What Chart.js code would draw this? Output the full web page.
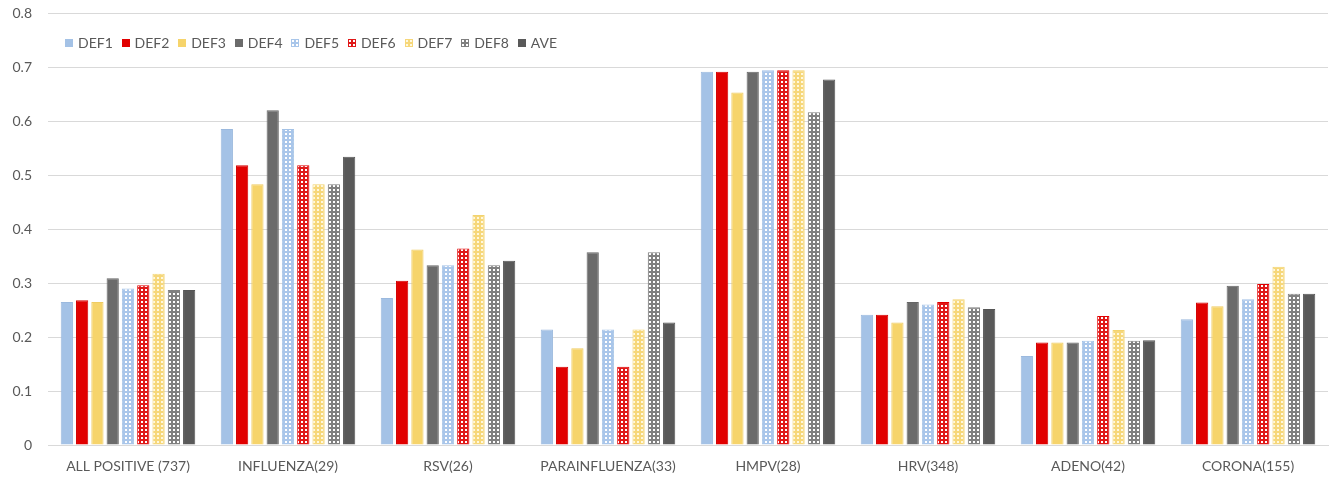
<!DOCTYPE html>
<html>
<head>
<meta charset="utf-8">
<script src="https://cdn.jsdelivr.net/npm/chart.js@4/dist/chart.umd.min.js"></script>
<style>
html,body{margin:0;padding:0;background:#fff;}
#wrap{width:1334px;height:481px;position:relative;}
#legend{position:absolute;left:65px;top:35px;height:16px;font-family:Lato,"Open Sans",sans-serif;font-size:14px;color:#595959;white-space:nowrap;}
#legend .item{display:inline-block;width:56.6px;height:16px;line-height:16px;vertical-align:top;}
#legend canvas{display:inline-block;vertical-align:middle;margin-right:5px;margin-top:-3px;}
</style>
</head>
<body>
<div id="wrap"><canvas id="c" width="1334" height="481"></canvas><div id="legend"></div></div>
<script>
const categories = ['ALL POSITIVE (737)','INFLUENZA(29)','RSV(26)','PARAINFLUENZA(33)','HMPV(28)','HRV(348)','ADENO(42)','CORONA(155)'];
const seriesNames = ['DEF1','DEF2','DEF3','DEF4','DEF5','DEF6','DEF7','DEF8','AVE'];
const DEF1 = [0.265,0.585,0.272,0.214,0.691,0.241,0.165,0.233];
const DEF2 = [0.268,0.518,0.304,0.145,0.691,0.241,0.190,0.264];
const DEF3 = [0.265,0.483,0.362,0.179,0.653,0.227,0.190,0.257];
const DEF4 = [0.309,0.620,0.333,0.357,0.691,0.265,0.190,0.295];
const DEF5 = [0.290,0.585,0.333,0.214,0.694,0.260,0.193,0.270];
const DEF6 = [0.296,0.518,0.364,0.145,0.694,0.265,0.239,0.298];
const DEF7 = [0.317,0.483,0.426,0.214,0.694,0.270,0.213,0.330];
const DEF8 = [0.287,0.483,0.333,0.357,0.616,0.255,0.193,0.280];
const AVE  = [0.287,0.534,0.341,0.227,0.677,0.252,0.194,0.280];
const yTicks = [0,0.1,0.2,0.3,0.4,0.5,0.6,0.7,0.8];

function dotTile(bg, dot, size, d){
  const c = document.createElement('canvas');
  c.width = size; c.height = size;
  const x = c.getContext('2d');
  x.fillStyle = bg; x.fillRect(0,0,size,size);
  x.fillStyle = dot;
  x.fillRect(1,1,d,d);
  return c;
}
const ctx = document.getElementById('c').getContext('2d');
const tiles = [
  null,null,null,null,
  dotTile('#A9C6EA','#ffffff',4,2),
  dotTile('#E01818','#ffffff',4,2),
  dotTile('#F6D77A','#FFF8DD',4,2),
  dotTile('#808080','#ffffff',4,2),
  null
];
const solids = ['#A4C2E6','#E10000','#F6D46B','#6B6B6B',null,null,null,null,'#595959'];
const fills = solids.map((s,i)=> s ? s : ctx.createPattern(tiles[i],'repeat'));
const borders = ['#9BB9DE','#D40000','#EFCC62','#666666','#A4C2E6','#E10000','#F2D36E','#808080','#555555'];
const seriesData = [DEF1,DEF2,DEF3,DEF4,DEF5,DEF6,DEF7,DEF8,AVE];

const datasets = seriesNames.map((n,i)=>({
  label:n,
  data:seriesData[i],
  backgroundColor:fills[i],
  borderColor:borders[i],
  borderWidth:1,
  categoryPercentage:0.86,
  barPercentage:0.8
}));

// HTML legend
const lg = document.getElementById('legend');
seriesNames.forEach((n,i)=>{
  const it = document.createElement('span'); it.className='item';
  const sw = document.createElement('canvas'); sw.width=8; sw.height=8;
  const sx = sw.getContext('2d');
  sx.fillStyle = solids[i] ? solids[i] : sx.createPattern(tiles[i],'repeat');
  sx.fillRect(0,0,8,8);
  it.appendChild(sw);
  it.appendChild(document.createTextNode(n));
  lg.appendChild(it);
});

Chart.defaults.font.family = 'Lato, "Open Sans", sans-serif';
Chart.defaults.color = '#595959';

new Chart(ctx,{
  type:'bar',
  data:{labels:categories,datasets},
  options:{
    responsive:false,
    animation:false,
    layout:{padding:{top:13,right:6,bottom:7,left:0}},
    plugins:{
      tooltip:{enabled:false},
      legend:{display:false}
    },
    scales:{
      x:{
        afterFit:(s)=>{s.height=29;s.paddingLeft=0;s.paddingRight=0;},
        grid:{display:false,drawTicks:false},
        border:{display:true,color:'#D9D9D9'},
        ticks:{padding:13,font:{size:14},color:'#595959',maxRotation:0}
      },
      y:{
        min:0,max:0.8,
        afterFit:(s)=>{s.width=48;s.paddingTop=0;s.paddingBottom=0;},
        afterBuildTicks:(s)=>{s.ticks = yTicks.map(v=>({value:v}));},
        grid:{color:'#D9D9D9',drawTicks:false},
        border:{display:false},
        ticks:{padding:16,font:{size:14},color:'#595959',callback:(v)=>String(v)}
      }
    }
  }
});
</script>
</body>
</html>
